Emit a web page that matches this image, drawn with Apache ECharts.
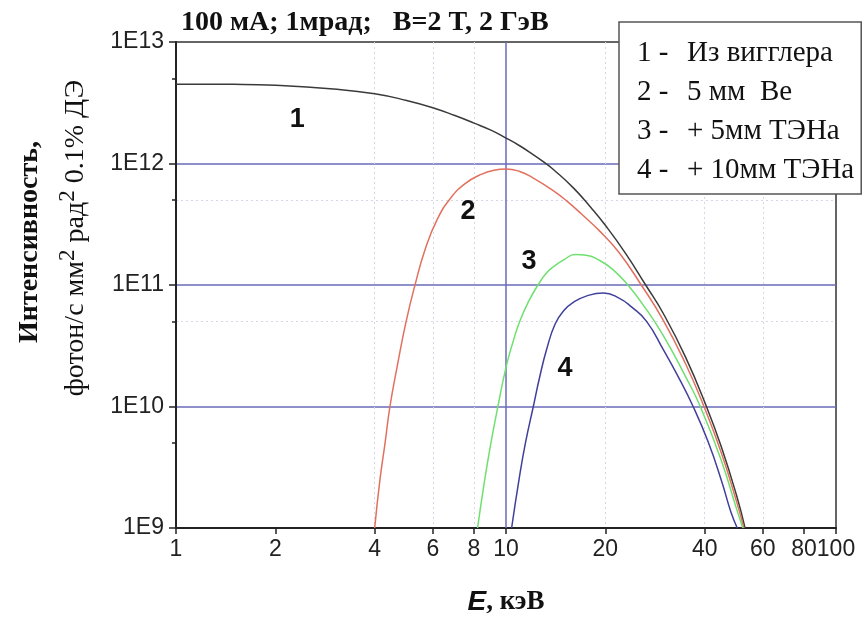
<!DOCTYPE html>
<html><head><meta charset="utf-8">
<script src="https://cdn.jsdelivr.net/npm/echarts@6/dist/echarts.min.js"></script>
<style>html,body{margin:0;padding:0;background:#fff}#c{width:867px;height:617px}</style>
</head><body><div id="c"></div>
<script>
// ---- data ----
const seriesNames = ['1 -  Из вигглера', '2 -  5 мм  Be', '3 -  + 5мм ТЭНа', '4 -  + 10мм ТЭНа'];
const xTickValues = [1, 2, 4, 6, 8, 10, 20, 40, 60, 80, 100];
const xMinorGrid = [2, 4, 6, 8, 20, 40, 60, 80];
const yMinorValues = [5e9, 5e10, 5e11, 5e12];

const e1 = [1, 1.5, 2, 3, 4, 5, 6, 7, 8, 9, 10, 11, 12, 13, 14, 16, 18, 20, 23, 26.5, 30, 35, 40.5, 45, 50, 53];
const i1 = [4.5e12, 4.48e12, 4.4e12, 4.1e12, 3.75e12, 3.3e12, 2.88e12, 2.48e12, 2.15e12, 1.88e12, 1.62e12, 1.4e12, 1.2e12, 1.03e12, 8.8e11, 6.3e11, 4.4e11, 3.1e11, 1.83e11, 1e11, 5.8e10, 2.55e10, 1e10, 4.6e9, 1.84e9, 1e9];

const e2 = [4.0, 4.15, 4.3, 4.45, 4.69, 4.98, 5.3, 5.7, 6.2, 6.8, 7.5, 8.3, 9.2, 10, 11, 12, 14, 15.3, 17, 19.3, 22, 25.7, 30, 35, 39.8, 45, 50, 52.6];
const i2 = [1e9, 2.5e9, 5e9, 1e10, 2.2e10, 5e10, 1e11, 2.0e11, 3.5e11, 5.2e11, 6.8e11, 8.0e11, 8.8e11, 9e11, 8.6e11, 7.7e11, 5.9e11, 4.9e11, 3.8e11, 2.75e11, 1.85e11, 1e11, 5.1e10, 2.25e10, 1e10, 4.1e9, 1.64e9, 1e9];

const e3 = [8.2, 8.6, 9.0, 9.45, 10, 10.5, 11, 11.7, 12.5, 13.2, 14, 15, 16.2, 17.5, 19, 21, 23.4, 26, 30, 35, 38.8, 45, 50, 52.2];
const i3 = [1e9, 2.4e9, 5e9, 1e10, 2.1e10, 3.4e10, 5e10, 7.3e10, 1e11, 1.24e11, 1.43e11, 1.62e11, 1.78e11, 1.76e11, 1.62e11, 1.35e11, 1e11, 6.9e10, 3.82e10, 1.76e10, 1e10, 3.55e9, 1.43e9, 1e9];

const e4 = [10.4, 10.95, 11.45, 12.1, 12.65, 13.3, 14.1, 15, 16, 17.5, 19.7, 22, 24, 26.7, 30, 33, 36.9, 41, 45, 48, 50.2];
const i4 = [1e9, 2.5e9, 5e9, 1e10, 1.75e10, 3e10, 4.8e10, 6.2e10, 7.2e10, 8.1e10, 8.6e10, 7.8e10, 6.6e10, 5e10, 2.92e10, 1.83e10, 1e10, 5.1e9, 2.44e9, 1.36e9, 1e9];

const curveLabels = ['1', '2', '3', '4'];
const curveLabelE = [2.33, 7.67, 11.74, 15.1];
const curveLabelI = [2.28e12, 4.0e11, 1.55e11, 2.07e10];

const titleText = '100 мА; 1мрад;   B=2 T, 2 ГэВ';
// ---- chart ----
const colors = ['#3a3a3a', '#e2705e', '#6fe06f', '#40409c'];
const gridBlue = '#6a6ab8';
const minorGrid = '#d6d6e6';
const pairs = (xs, ys) => xs.map((x, k) => [x, ys[k]]);
const seriesData = [pairs(e1, i1), pairs(e2, i2), pairs(e3, i3), pairs(e4, i4)];

const chart = echarts.init(document.getElementById('c'), null, {renderer: 'canvas'});
const serif = '"Liberation Serif", "Times New Roman", serif';
const sans = '"Liberation Sans", Arial, sans-serif';

const series = seriesData.map((d, k) => ({
  name: seriesNames[k],
  type: 'line',
  data: d,
  xAxisIndex: 0, yAxisIndex: 0,
  showSymbol: false,
  smooth: 0.5,
  z: 5,
  lineStyle: {color: colors[k], width: 1.5},
  itemStyle: {color: colors[k]},
  markPoint: {
    symbol: 'circle', symbolSize: 1,
    itemStyle: {color: 'rgba(0,0,0,0)'},
    label: {show: true, position: 'inside', formatter: curveLabels[k],
      fontFamily: sans, fontWeight: 'bold', fontSize: 27, color: '#111'},
    data: [{coord: [curveLabelE[k], curveLabelI[k]]}]
  }
}));
series[0].markLine = {
  silent: true, symbol: 'none', label: {show: false},
  lineStyle: {color: gridBlue, width: 1.5, type: 'solid'},
  data: [{xAxis: 10}]
};

chart.setOption({
  animation: false,
  backgroundColor: '#fff',
  title: {
    text: titleText, left: 176, top: 4,
    textStyle: {fontFamily: serif, fontWeight: 'bold', fontSize: 28, color: '#111'}
  },
  legend: {
    orient: 'vertical', left: 619, top: 22,
    backgroundColor: '#fff', borderColor: '#555', borderWidth: 1.5,
    padding: [17, 7, 9, 13], itemGap: 10, itemWidth: 0, itemHeight: 0,
    icon: 'rect', selectedMode: false, data: seriesNames,
    formatter: name => {
      const p = name.indexOf('-');
      return '{n|' + name.slice(0, p + 1) + '}{t|' + name.slice(p + 1).replace(/^\s+/, '') + '}';
    },
    textStyle: {
      color: '#111',
      rich: {
        n: {fontFamily: serif, fontSize: 29, width: 50, lineHeight: 29, color: '#111'},
        t: {fontFamily: serif, fontSize: 29, lineHeight: 29, color: '#111'}
      }
    }
  },
  grid: {left: 176, right: 31, top: 42, bottom: 89, show: true, borderColor: '#333', borderWidth: 1.5,
    backgroundColor: 'transparent', containLabel: false, outerBoundsMode: 'none'},
  xAxis: [{
    type: 'log', logBase: 10, min: 1, max: 100, position: 'bottom',
    axisLine: {show: true, lineStyle: {color: '#222', width: 2}},
    axisTick: {show: true, length: 6, customValues: xTickValues, lineStyle: {color: '#222', width: 1.5}},
    axisLabel: {customValues: xTickValues, margin: 10, fontFamily: sans, fontSize: 23, color: '#222'},
    splitLine: {show: false},
    name: '{e|E}{r|, кэВ}', nameLocation: 'middle', nameGap: 60,
    nameTextStyle: {rich: {
      e: {fontFamily: sans, fontStyle: 'italic', fontWeight: 'bold', fontSize: 28, color: '#111'},
      r: {fontFamily: serif, fontWeight: 'bold', fontSize: 27, color: '#111'}
    }}
  }, {
    type: 'log', logBase: 10, min: 1, max: 100, position: 'bottom',
    axisLine: {show: false}, axisLabel: {show: false},
    axisTick: {show: false, customValues: xMinorGrid},
    splitLine: {show: true, showMinLine: false, showMaxLine: false, lineStyle: {color: minorGrid, width: 1, type: [2, 3]}}
  }],
  yAxis: [{
    type: 'log', logBase: 10, min: 1e9, max: 1e13, position: 'left',
    axisLine: {show: true, lineStyle: {color: '#222', width: 2}},
    axisTick: {show: true, length: 7, lineStyle: {color: '#222', width: 1.5}},
    axisLabel: {margin: 12, fontFamily: sans, fontSize: 23, color: '#222',
      formatter: v => '1E' + Math.round(Math.log10(v))},
    splitLine: {show: true, showMinLine: false, showMaxLine: false, lineStyle: {color: gridBlue, width: 1.5}}
  }, {
    type: 'log', logBase: 10, min: 1e9, max: 1e13, position: 'left',
    axisLine: {show: false}, axisLabel: {show: false},
    axisTick: {show: true, length: 4, customValues: yMinorValues, lineStyle: {color: '#222', width: 1.5}},
    splitLine: {show: true, showMinLine: false, showMaxLine: false, lineStyle: {color: minorGrid, width: 1, type: [2, 3]}}
  }],
  graphic: [{
    type: 'text', x: 30, y: 242, rotation: Math.PI / 2, z: 10,
    style: {text: 'Интенсивность,', font: 'bold 28px ' + serif, fill: '#111', align: 'center', verticalAlign: 'middle'}
  }, {
    type: 'text', x: 76, y: 238, rotation: Math.PI / 2, z: 10,
    style: {
      text: '{n|фотон/с мм}{s|2}{n| рад}{s|2}{n| 0.1% ДЭ}',
      align: 'center', verticalAlign: 'middle', fill: '#111',
      rich: {
        n: {fontFamily: serif, fontSize: 28, lineHeight: 40, fill: '#111', color: '#111'},
        s: {fontFamily: serif, fontSize: 23, lineHeight: 23, verticalAlign: 'top', fill: '#111', color: '#111'}
      }
    }
  }],
  series: series
});
</script></body></html>
